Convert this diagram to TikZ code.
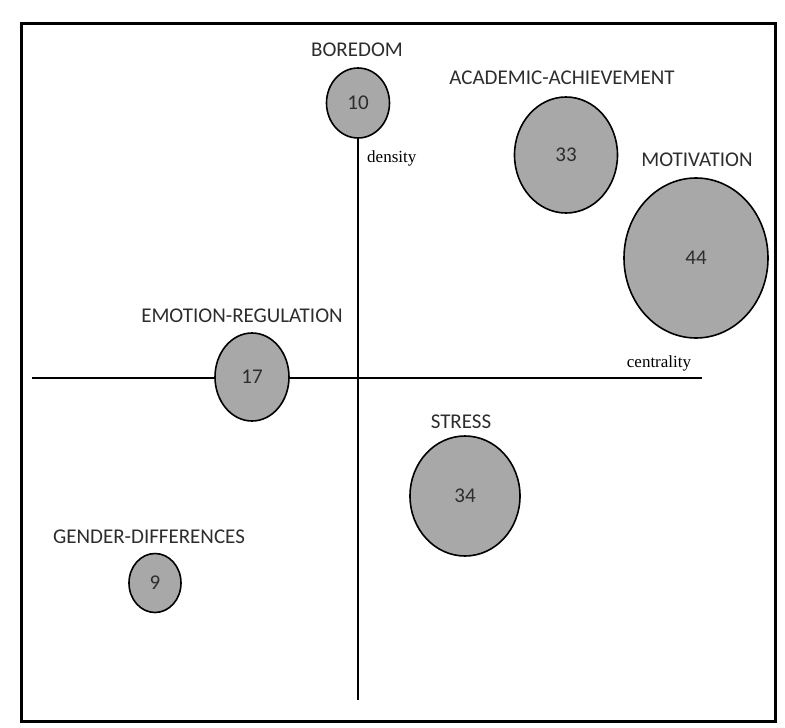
\documentclass[tikz,border=0pt]{standalone}
\usepackage{fontspec}
\setmainfont{Carlito}
\newfontfamily\axisfont{Liberation Serif}
\usetikzlibrary{shapes, positioning, calc, backgrounds}
\definecolor{bubblegray}{RGB}{168,168,168}
\definecolor{textgray}{RGB}{45,45,45}

\begin{document}
\begin{tikzpicture}[x=1pt, y=-1pt,
	bubble/.style={ellipse, draw=black, line width=1.6pt, fill=bubblegray, inner sep=0pt, text=textgray, font=\fontsize{21}{21}\selectfont},
	topic/.style={inner sep=0pt, text=textgray, font=\fontsize{21}{21}\selectfont},
	axislabel/.style={inner sep=0pt, font=\axisfont\fontsize{17}{17}\selectfont},
	axisline/.style={line width=2.4pt}]
	\useasboundingbox (0,0) rectangle (785,728);
	\draw[line width=3pt] (21,23) rectangle (775,721);
	
	% bubbles
	\node[bubble, minimum width=63, minimum height=70] (boredom) at (358,103) {10};
	\node[bubble, minimum width=103, minimum height=116] (achievement) at (566,155) {33};
	\node[bubble, minimum width=144, minimum height=160] (motivation) at (696,258) {44};
	\node[bubble, minimum width=74, minimum height=88] (emotion) at (252,377) {17};
	\node[bubble, minimum width=110, minimum height=120] (stress) at (465,496) {34};
	\node[bubble, minimum width=52, minimum height=59] (gender) at (155,583) {9};
	
	\node[topic] (boredomtxt) at (357,50) {BOREDOM};
	\node[topic] (achievementtxt) at (562,78) {ACADEMIC-ACHIEVEMENT};
	\node[topic] (motivationtxt) at (697,160) {MOTIVATION};
	\node[topic] (emotiontxt) at (242,316) {EMOTION-REGULATION};
	\node[topic] (stresstxt) at (461,422) {STRESS};
	\node[topic] (gendertxt) at (149,537) {GENDER-DIFFERENCES};
	
	\node[axislabel, anchor=west] (density) at (367,158) {density};
	\node[axislabel] (centrality) at (659,363) {centrality};
	
	% axes
	\coordinate (vaxisend) at (358,700);
	\coordinate (haxisw) at (32,378);
	\coordinate (haxise) at (702,378);
	\begin{scope}[on background layer]
		\draw[axisline] (boredom.south) -- (vaxisend);
		\draw[axisline] (haxisw) -- (haxise);
	\end{scope}
\end{tikzpicture}
\end{document}
